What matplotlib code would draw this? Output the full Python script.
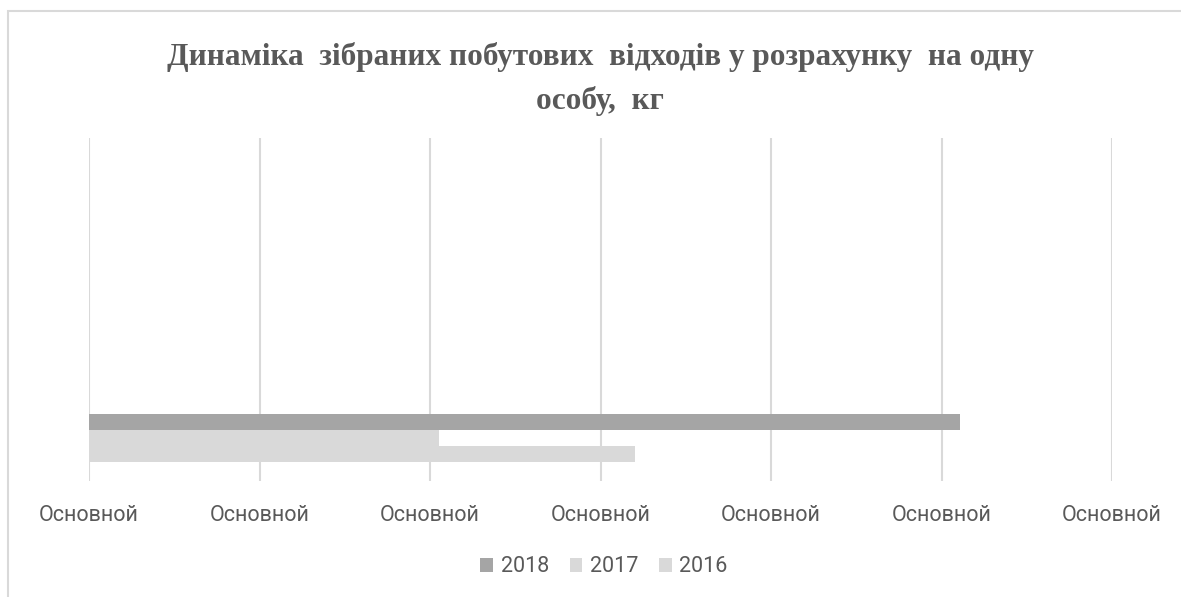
import matplotlib
matplotlib.use("Agg")
import matplotlib.pyplot as plt
from matplotlib.patches import Patch, Rectangle

# Data (axis number format shows "Основной" for every tick)
series = ["2018", "2017", "2016"]
values = [5.11, 2.05, 3.20]
colors = ["#a5a5a5", "#d9d9d9", "#d9d9d9"]
tick_values = [0, 1, 2, 3, 4, 5, 6]
tick_labels = ["Основной"] * 7
title = "Динаміка  зібраних побутових  відходів у розрахунку  на одну\nособу,  кг"

W, H = 1181, 597
fig = plt.figure(figsize=(W / 100, H / 100), dpi=100)

# chart border (left/top visible, right/bottom cut)
fig.patches.append(Rectangle((8 / W, -0.1), 1.2, (H - 11) / H + 0.1, transform=fig.transFigure,
                             fill=False, edgecolor="#d9d9d9", linewidth=1.5))

left, right, top, bottom = 89, 1112, 138, 481
ax = fig.add_axes([left / W, (H - bottom) / H, (right - left) / W, (bottom - top) / H])

ypos = [2, 1, 0]
ax.barh(ypos, values, height=1.0, color=colors, zorder=3)
ax.set_ylim(-1.69, 19.75)
ax.set_xlim(0, 6)
ax.set_xticks(tick_values)
ax.set_xticklabels(tick_labels, fontfamily=["Roboto", "DejaVu Sans"],
                   fontsize=15.5, color="#595959")
ax.set_yticks([])
ax.tick_params(axis="x", length=0, pad=17)
ax.grid(axis="x", color="#d9d9d9", linewidth=1.5, zorder=0)
for s in ax.spines.values():
    s.set_visible(False)

fig.text(600 / W, 1 - 79 / H, title, ha="center", va="center", fontsize=22.5, fontweight="bold",
         fontfamily="Liberation Serif", color="#595959", linespacing=1.65)

handles = [Patch(facecolor=c, edgecolor="none", label=s) for s, c in zip(series, colors)]
fig.legend(handles=handles, loc="center", bbox_to_anchor=(604 / W, 1 - 567 / H), ncol=3,
           frameon=False, handlelength=0.6, handleheight=0.6, handletextpad=0.35, columnspacing=0.95,
           prop={"family": ["Roboto", "DejaVu Sans"], "size": 15.5},
           labelcolor="#595959")

fig.savefig("out.png", dpi=100, facecolor="white")
